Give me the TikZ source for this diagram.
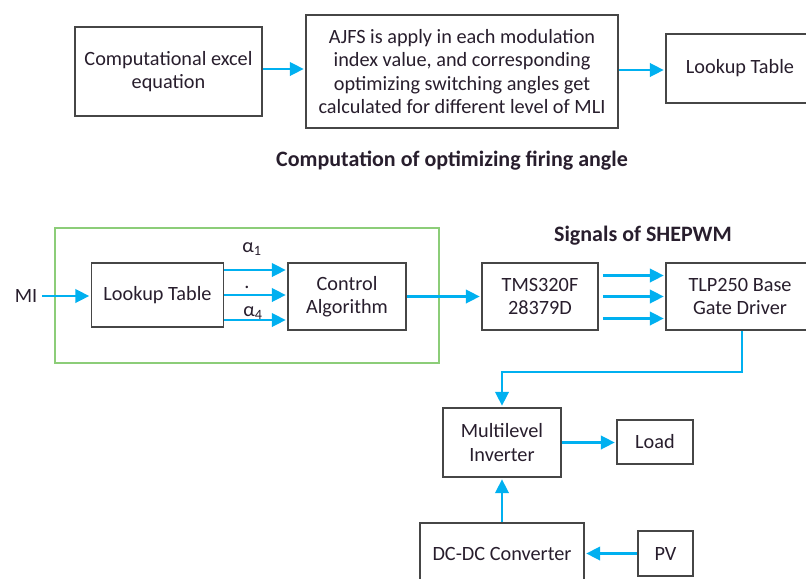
\documentclass[tikz,border=0pt]{standalone}
\usepackage{fontspec}
\setmainfont{Carlito}
\usetikzlibrary{arrows.meta,calc}
\definecolor{arr}{RGB}{0,176,240}
\definecolor{bord}{RGB}{70,70,70}
\definecolor{grn}{RGB}{140,205,120}
\definecolor{txt}{RGB}{40,30,45}
\begin{document}
\begin{tikzpicture}[x=0.75pt,y=-0.75pt,
  bx/.style 2 args={draw=bord, line width=1.3pt, fill=white, minimum width=#1*0.75pt, minimum height=#2*0.75pt, inner sep=2pt, align=center, text=txt, font=\fontsize{15.2}{17.6}\selectfont},
  ar/.style={draw=arr, line width=2.2pt, -{Triangle[length=10.5pt,width=10pt]}, shorten >=1pt},
  lbl/.style={text=txt, font=\fontsize{15.2}{17}\selectfont},
  ttl/.style={text=txt, font=\fontsize{16.5}{19}\selectfont\bfseries}]
\useasboundingbox (0,0) rectangle (806,578);
% top row
\node[bx={187}{89}] (comp) at (168.5,71.5) {Computational excel\\equation};
\node[bx={312}{113}] (ajfs) at (462,71.5) {AJFS is apply in each modulation\\index value, and corresponding\\optimizing switching angles get\\calculated for different level of MLI};
\node[bx={148}{69}] (lut1) at (740,68.5) {Lookup Table};
\draw[ar] (comp.east |- 0,69) -- (ajfs.west |- 0,69);
\draw[ar] (ajfs.east |- 0,70) -- (lut1.west |- 0,70);
\node[ttl] (t1) at (452,161) {Computation of optimizing firing angle};
% green frame
\draw[draw=grn, line width=1.2pt] (55,228) rectangle (439,363);
\node[lbl] (mi) at (26,296) {MI};
\node[bx={132}{64}] (lut2) at (157.5,295) {Lookup Table};
\node[bx={118}{67}] (ctrl) at (347,296.5) {Control\\Algorithm};
\draw[ar] (mi.east) -- (lut2.west |- mi.east);
\draw[ar] ([yshift=18.75pt]lut2.east) -- ([yshift=18.75pt]lut2.east -| ctrl.west);
\draw[ar] (lut2.east) -- (lut2.east -| ctrl.west);
\draw[ar] ([yshift=-18.75pt]lut2.east) -- ([yshift=-18.75pt]lut2.east -| ctrl.west);
\node[lbl] (a1) at (252,249) {α\textsubscript{1}};
\node[lbl] (dot) at (247,287) {.};
\node[lbl] (a4) at (253,313) {α\textsubscript{4}};
% right chain
\node[bx={116}{67}] (tms) at (540,296.5) {TMS320F\\28379D};
\node[bx={148}{67}] (tlp) at (740,296.5) {TLP250 Base\\Gate Driver};
\draw[ar] (ctrl.east) -- (tms.west |- ctrl.east);
\node[ttl] (t2) at (643,236) {Signals of SHEPWM};
\draw[ar, shorten <=3pt] ([yshift=15.75pt]tms.east) -- ([yshift=15.75pt]tms.east -| tlp.west);
\draw[ar, shorten <=3pt] (tms.east) -- (tms.east -| tlp.west);
\draw[ar, shorten <=3pt] ([yshift=-16.5pt]tms.east) -- ([yshift=-16.5pt]tms.east -| tlp.west);
% lower part
\node[bx={118}{69}] (mli) at (502,442.5) {Multilevel\\Inverter};
\node[bx={76}{44}] (load) at (655,442) {Load};
\node[bx={164}{62}] (dcdc) at (502,554) {DC-DC Converter};
\node[bx={55}{45}] (pv) at (665.5,553.5) {PV};
\coordinate (bend) at (742,372);
\draw[ar] (tlp.south -| bend) -- (bend) -| (mli.north);
\draw[ar] (mli.east) -- (load.west |- mli.east);
\draw[ar] (dcdc.north) -- (mli.south);
\draw[ar] (pv.west) -- (dcdc.east |- pv.west);
\end{tikzpicture}
\end{document}
